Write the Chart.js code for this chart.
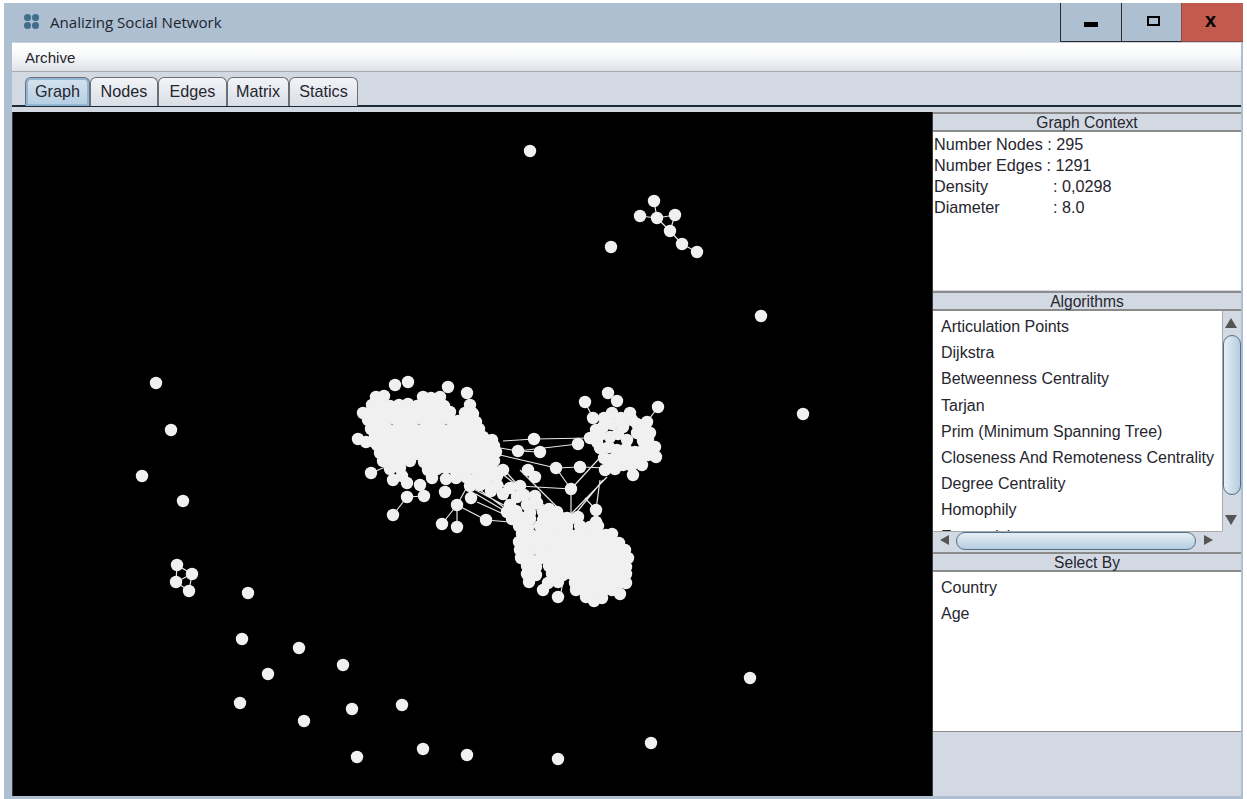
<!DOCTYPE html>
<html>
<head>
<meta charset="utf-8">
<title>Analizing Social Network</title>
<script src="https://cdn.jsdelivr.net/npm/chart.js@4/dist/chart.umd.js"></script>
<style>
  html, body { margin: 0; padding: 0; background: #fff; overflow: hidden; }
  body { width: 1247px; height: 799px; position: relative; font-family: "Liberation Sans", Arial, sans-serif; color: #26262e; }
  .box { position: absolute; box-sizing: border-box; }
  .txt { position: absolute; white-space: nowrap; font-size: 16px; line-height: 18px; }
  .head { position: absolute; left: 933px; width: 308px; height: 20px; background: #d3d9e3; border-top: 2px solid #8b8b8b; border-bottom: 2px solid #8b8b8b; box-sizing: border-box; text-align: center; font-size: 15.6px; line-height: 18px; }
  .tab { position: absolute; top: 77px; height: 29px; box-sizing: border-box; background: linear-gradient(#f2f4f7, #d9dee6); border: 1px solid #6c6f76; border-bottom: none; border-radius: 6px 6px 0 0; text-align: center; font-size: 16.2px; line-height: 26px; }
  .tab.on { background: linear-gradient(#d6e3ee, #b4cde2); box-shadow: inset 0 0 0 2px #8fb4d4; }
  #graph { position: absolute; left: 13px; top: 112px; background: #000; }
</style>
</head>
<body>
<div class="box" style="left:4px;top:3px;width:1239px;height:796px;background:#adbfd0"></div>
<div class="box" style="left:12px;top:42px;width:1229px;height:29px;background:linear-gradient(#fff,#fafbfc 35%,#dfe3e9);border-top:1px solid #c8d2dc"></div>
<div class="box" style="left:12px;top:71px;width:1229px;height:725px;background:#d3d9e3;border-top:1px solid #a9a9a9"></div>
<div class="box" style="left:12px;top:105px;width:1229px;height:2px;background:#1d2a3a"></div>
<div class="box" style="left:12px;top:112px;width:921px;height:684px;background:#3a3a3a"></div>
<!-- window buttons -->
<div class="box" style="left:1060px;top:3px;width:62px;height:39px;border-left:1px solid #2b2b2b;border-bottom:1px solid #2b2b2b"></div>
<div class="box" style="left:1121px;top:3px;width:60px;height:39px;border-left:1px solid #2b2b2b;border-bottom:1px solid #2b2b2b"></div>
<div class="box" style="left:1181px;top:3px;width:62px;height:39px;background:#c25a4e;border-left:1px solid #8b4a42;border-bottom:1px solid #8b4a42"></div>
<div class="box" style="left:1084px;top:22px;width:14px;height:5px;background:#000"></div>
<div class="box" style="left:1147px;top:16px;width:13px;height:10px;border:2px solid #000"></div>
<div class="txt" style="left:1205px;top:11px;font-weight:bold;font-size:20px;color:#000">x</div>
<!-- app icon -->
<div class="box" style="left:24px;top:14px;width:7px;height:7px;border-radius:50%;background:#3f6f8c"></div>
<div class="box" style="left:32px;top:14px;width:7px;height:7px;border-radius:50%;background:#3f6f8c"></div>
<div class="box" style="left:24px;top:22px;width:7px;height:7px;border-radius:50%;background:#3f6f8c"></div>
<div class="box" style="left:32px;top:22px;width:7px;height:7px;border-radius:50%;background:#3f6f8c"></div>
<div class="txt" id="title" style="left:50px;top:13px;font-family:'Open Sans';font-size:15.1px;color:#1c2430"></div>
<div class="txt" id="menu" style="left:25px;top:49px;font-size:15.1px"></div>
<div id="tabs"></div>
<canvas id="graph" width="919" height="684"></canvas>

<div class="head" style="top:112px">Graph Context</div>
<div class="box" style="left:933px;top:132px;width:308px;height:158px;background:#fff"></div>
<div class="head" style="top:291px">Algorithms</div>
<div class="box" style="left:933px;top:311px;width:289px;height:220px;background:#fff;overflow:hidden" id="algoList"></div>
<!-- scrollbars -->
<div class="box" style="left:1222px;top:311px;width:19px;height:220px;background:#d3d9e3;border-left:1px solid #aaa"></div>
<div class="box" style="left:1223px;top:335px;width:18px;height:160px;border-radius:10px;background:linear-gradient(90deg,#e6eef5,#b5cde0);border:1px solid #4f6f8c"></div>
<div class="box" style="left:1225px;top:318px;width:0;height:0;border-left:6px solid transparent;border-right:6px solid transparent;border-bottom:10px solid #555"></div>
<div class="box" style="left:1225px;top:515px;width:0;height:0;border-left:6px solid transparent;border-right:6px solid transparent;border-top:10px solid #555"></div>
<div class="box" style="left:933px;top:531px;width:289px;height:19px;background:#d3d9e3;border-top:1px solid #aaa"></div>
<div class="box" style="left:956px;top:532px;width:240px;height:18px;border-radius:10px;background:linear-gradient(#e6eef5,#b5cde0);border:1px solid #4f6f8c"></div>
<div class="box" style="left:940px;top:535px;width:0;height:0;border-top:5px solid transparent;border-bottom:5px solid transparent;border-right:9px solid #555"></div>
<div class="box" style="left:1204px;top:535px;width:0;height:0;border-top:5px solid transparent;border-bottom:5px solid transparent;border-left:9px solid #555"></div>
<div class="head" style="top:552px">Select By</div>
<div class="box" style="left:933px;top:572px;width:308px;height:160px;background:#fff;border-bottom:1px solid #8b8b8b" id="selectList"></div>

<script>
const titleText = "Analizing Social Network";
const menuItems = ["Archive"];
const tabNames = ["Graph", "Nodes", "Edges", "Matrix", "Statics"];
const tabEdges = [25, 90, 158, 227, 289, 358];
const contextLabels = ["Number Nodes : 295", "Number Edges : 1291", "Density", "Diameter"];
const contextValues = ["", "", ": 0,0298", ": 8.0"];
const algorithmNames = ["Articulation Points", "Dijkstra", "Betweenness Centrality", "Tarjan", "Prim (Minimum Spanning Tree)", "Closeness And Remoteness Centrality", "Degree Centrality", "Homophily", "Eccentricity"];
const selectNames = ["Country", "Age"];

// node positions, in screen px
const isolatedNodes = [[530,151],[611,247],[761,316],[803,414],[156,383],[171,430],[142,476],[183,501],[248,593],[242,639],[299,648],[343,665],[268,674],[240,703],[304,721],[352,709],[402,705],[357,757],[423,749],[467,755],[558,759],[651,743],[750,678]];
const topGroup = [[654,201],[640,216],[657,218],[675,215],[670,231],[682,244],[697,252]];
const leftGroup = [[177,565],[192,574],[176,582],[189,591]];
const leftCluster = [
  [395,385],[408,382],[448,387],[467,393],[380,400],[363,413],[358,439],[366,442],[371,473],[472,413],
  [407,497],[424,496],[393,515],[393,480],[407,483],[420,485],[445,492],[457,505],[471,498],[442,524],[457,527],[486,520],
  [376,397],[384,396],[423,397],[431,398],[440,397],
  [372,405],[381,404],[390,406],[399,405],[408,404],[417,406],[426,405],[435,404],[444,406],[470,405],
  [369,413],[378,412],[387,411],[396,413],[405,412],[414,411],[423,413],[432,412],[441,414],[450,412],[465,413],[473,414],
  [368,420],[377,421],[386,420],[395,419],[404,421],[413,420],[422,419],[431,421],[440,420],[449,419],[458,421],[467,420],[476,422],
  [371,429],[380,428],[389,430],[398,429],[407,428],[416,430],[425,429],[434,428],[443,430],[452,429],[461,428],[470,430],[479,429],
  [375,437],[384,438],[393,436],[402,437],[411,438],[420,436],[429,437],[438,438],[447,436],[456,437],[465,438],[474,436],[483,437],[492,440],
  [377,445],[386,444],[395,446],[404,445],[413,444],[422,446],[431,445],[440,444],[449,446],[458,445],[467,444],[476,446],[485,445],[494,446],
  [380,453],[389,454],[398,452],[407,453],[416,454],[425,452],[434,453],[443,454],[452,452],[461,453],[470,454],[479,452],[488,453],[496,452],
  [383,461],[392,462],[401,460],[410,461],[424,462],[433,460],[442,461],[451,462],[460,460],[469,461],[478,462],[487,460],[494,461],
  [390,469],[400,468],[428,470],[437,469],[446,468],[455,470],[464,469],[473,468],[482,470],[492,469],
  [402,476],[446,479],[456,478],[466,477],[476,479],[486,478],[497,476],[470,486],[480,485],[432,478]
];
const rightCluster = [
  [608,393],[617,401],[585,402],[658,407],[593,418],[630,413],[612,413],[647,422],[603,427],[612,424],[623,427],[637,424],
  [590,438],[578,444],[650,433],[655,447],[656,457],[642,465],[633,475],[615,469],[605,470],
  [600,435],[610,437],[618,434],[627,440],[637,433],[643,441],[600,448],[609,447],[617,450],[626,449],[635,452],[644,449],
  [597,442],[630,457],[622,458],[613,459],[604,458],[639,458],[648,455],[610,465],[623,465],[632,465],
  [604,418],[621,418],[632,420],[641,430],[648,440],[596,430]
];
const bridgeNodes = [
  [534,439],[518,451],[540,452],[556,468],[580,467],[571,489],[520,486],[528,470],[535,477],[596,510],[596,522],[567,518],
  [537,503],[510,505],[503,494],[503,470],[487,483],[497,485],[480,477],[543,512],[530,513],[517,497],[527,505],
  [491,491],[510,488],[524,495],[549,509],[535,496],[557,512]
];
const bottomCluster = [
  [507,512],[516,511],[512,519],[521,518],[530,519],[543,520],[552,519],[561,518],[570,519],[578,517],
  [519,526],[528,527],[540,526],[549,527],[558,526],[567,527],[580,526],[590,527],[598,526],
  [522,534],[531,535],[541,534],[550,535],[560,534],[570,535],[579,534],[588,535],[597,534],[606,535],[612,534],
  [519,542],[528,543],[537,542],[546,543],[556,542],[565,543],[574,542],[583,543],[592,542],[601,543],[610,542],[619,543],
  [520,550],[529,551],[539,550],[548,551],[557,550],[566,551],[575,550],[584,551],[593,550],[602,551],[611,550],[620,551],[625,550],
  [521,558],[530,559],[541,558],[552,559],[561,558],[570,559],[579,558],[588,559],[597,558],[606,559],[615,558],[624,559],[628,558],
  [527,566],[536,567],[549,566],[558,567],[567,566],[576,567],[585,566],[594,567],[603,566],[612,567],[621,566],[626,567],
  [527,574],[536,575],[552,574],[563,575],[572,574],[581,575],[590,574],[599,575],[608,574],[617,575],[626,574],
  [529,582],[548,583],[558,582],[575,583],[584,582],[593,583],[602,582],[611,583],[620,582],[626,583],
  [543,590],[576,590],[585,591],[594,590],[603,591],[612,590],[558,597],[620,594],[586,597],[594,601],[602,598]
];

// edge end points: x1, y1, x2, y2
const edgeX1 = [503,534,518,500,518,500,556,580,556,520,571,571,572,576,596,585,477,486,457,457,457,407,407,423,457,483,497,507,480,470,371,358,658,585,560,620,633,491,487,476,510,520];
const edgeY1 = [441,439,451,448,451,455,468,467,468,486,489,489,513,513,510,498,502,520,505,505,505,497,497,483,505,473,470,473,490,487,473,439,407,402,597,594,475,478,484,494,480,470];
const edgeX2 = [534,590,578,518,540,556,580,607,571,571,607,571,607,603,600,596,510,510,486,457,442,393,424,424,467,557,553,540,517,513,390,377,647,593,563,610,623,555,535,520,560,565];
const edgeY2 = [439,438,444,451,452,468,467,468,489,489,450,513,477,480,480,510,517,522,520,527,524,515,496,496,487,517,513,510,517,510,465,450,422,418,582,583,465,523,522,520,517,515];

const allNodes = isolatedNodes.concat(topGroup, leftGroup, leftCluster, rightCluster, bridgeNodes, bottomCluster);
const smallGroupEdges = [[654,201,657,218],[640,216,657,218],[657,218,675,215],[657,218,670,231],[675,215,670,231],[670,231,682,244],[682,244,697,252],[177,565,192,574],[177,565,176,582],[176,582,189,591],[192,574,189,591],[176,582,192,574]];

// build page chrome from the lists
document.getElementById("title").textContent = titleText;
document.getElementById("menu").textContent = menuItems[0];
function addText(parent, text, left, top, size) {
  const d = document.createElement("div");
  d.className = "txt";
  d.style.left = left + "px";
  d.style.top = top + "px";
  if (size) d.style.fontSize = size + "px";
  d.textContent = text;
  parent.appendChild(d);
}
tabNames.forEach((name, i) => {
  const t = document.createElement("div");
  t.className = i === 0 ? "tab on" : "tab";
  t.style.left = tabEdges[i] + "px";
  t.style.width = (tabEdges[i + 1] - tabEdges[i]) + "px";
  t.textContent = name;
  document.getElementById("tabs").appendChild(t);
});
contextLabels.forEach((label, i) => {
  addText(document.body, label, 934, 135 + i * 21, 16.2);
  if (contextValues[i]) addText(document.body, contextValues[i], 1053, 135 + i * 21, 16.2);
});
algorithmNames.forEach((name, i) => {
  addText(document.getElementById("algoList"), name, 8, 7 + i * 26.2);
});
selectNames.forEach((name, i) => {
  addText(document.getElementById("selectList"), name, 8, 7 + i * 26.2);
});

// one line dataset with gaps between the edges
const edgeData = [];
edgeX1.forEach((x, i) => {
  edgeData.push({ x: x, y: edgeY1[i] }, { x: edgeX2[i], y: edgeY2[i] }, { x: null, y: null });
});
smallGroupEdges.forEach(e => {
  edgeData.push({ x: e[0], y: e[1] }, { x: e[2], y: e[3] }, { x: null, y: null });
});

new Chart(document.getElementById("graph"), {
  type: "scatter",
  data: {
    datasets: [{
      label: "Edges",
      data: edgeData,
      showLine: true,
      spanGaps: false,
      borderColor: "#e6e6e6",
      borderWidth: 1.2,
      pointRadius: 0,
      order: 2
    }, {
      label: "Nodes",
      data: allNodes.map(n => ({ x: n[0], y: n[1] })),
      backgroundColor: "#f0f0f0",
      borderWidth: 0,
      pointRadius: 6.2,
      order: 1
    }]
  },
  options: {
    responsive: false,
    animation: false,
    devicePixelRatio: 1,
    layout: { padding: 0, autoPadding: false },
    plugins: { legend: { display: false }, tooltip: { enabled: false } },
    scales: {
      x: { type: "linear", display: false, min: 13, max: 932 },
      y: { type: "linear", display: false, min: 112, max: 796, reverse: true }
    }
  }
});
</script>
</body>
</html>
